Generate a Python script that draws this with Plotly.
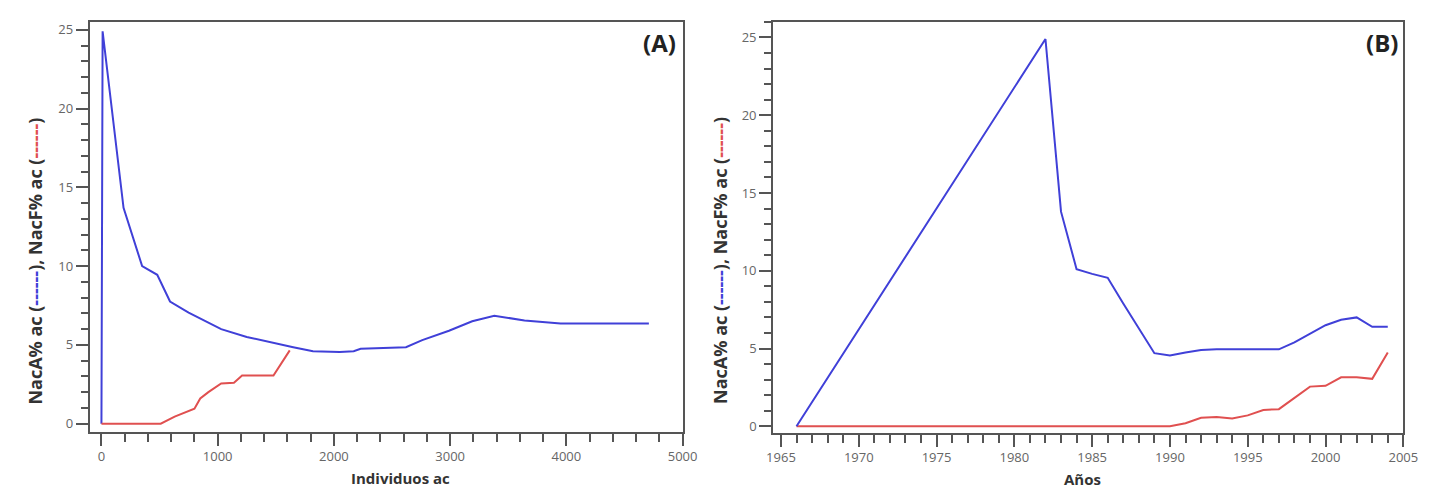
import plotly.graph_objects as go

# Panel A: accumulated individuals
indiv_nacA = [0, 10, 190, 350, 480, 590, 750, 1030, 1250, 1480, 1650, 1820, 2050, 2170, 2230, 2620, 2760, 2990, 3190, 3380, 3640, 3950, 4710]
nacA_A = [0, 24.9, 13.7, 10.0, 9.45, 7.75, 7.05, 6.0, 5.5, 5.1, 4.85, 4.6, 4.55, 4.6, 4.75, 4.85, 5.3, 5.9, 6.5, 6.85, 6.55, 6.35, 6.35]
indiv_nacF = [0, 510, 630, 750, 800, 850, 920, 1030, 1140, 1210, 1480, 1620]
nacF_A = [0, 0, 0.45, 0.8, 0.95, 1.6, 2.0, 2.55, 2.6, 3.05, 3.05, 4.65]

# Panel B: years
years = [1966, 1982, 1983, 1984, 1985, 1986, 1987, 1988, 1989, 1990, 1991, 1992, 1993, 1994,
         1995, 1996, 1997, 1998, 1999, 2000, 2001, 2002, 2003, 2004]
nacA_B = [0, 24.9, 13.8, 10.1, 9.8, 9.55, 7.9, 6.3, 4.7, 4.55, 4.75, 4.9, 4.95, 4.95,
          4.95, 4.95, 4.95, 5.4, 5.95, 6.5, 6.85, 7.0, 6.4, 6.4]
nacF_B = [0, 0, 0, 0, 0, 0, 0, 0, 0, 0, 0.2, 0.55, 0.6, 0.5,
          0.7, 1.05, 1.1, 1.8, 2.55, 2.6, 3.15, 3.15, 3.05, 4.75]

BLUE = "#4040d8"
RED = "#e05050"
AXC = "#555555"
FONT = "Open Sans"

fig = go.Figure()
fig.add_trace(go.Scatter(x=indiv_nacA, y=nacA_A, mode="lines", line=dict(color=BLUE, width=2),
                         xaxis="x", yaxis="y", showlegend=False))
fig.add_trace(go.Scatter(x=indiv_nacF, y=nacF_A, mode="lines", line=dict(color=RED, width=2),
                         xaxis="x", yaxis="y", showlegend=False))
fig.add_trace(go.Scatter(x=years, y=nacF_B, mode="lines", line=dict(color=RED, width=2),
                         xaxis="x2", yaxis="y2", showlegend=False))
fig.add_trace(go.Scatter(x=years, y=nacA_B, mode="lines", line=dict(color=BLUE, width=2),
                         xaxis="x2", yaxis="y2", showlegend=False))

W, H = 1432, 488
def fx(px): return px / W
def fy(py): return 1 - py / H

common = dict(showline=True, linecolor=AXC, linewidth=2, mirror=True, showgrid=False,
              zeroline=False, ticks="outside", tickwidth=2, tickcolor=AXC,
              tickfont=dict(family=FONT, size=13, color="#666666"))
xminor = dict(ticks="outside", ticklen=8, tickwidth=2, tickcolor=AXC)
yminor = dict(dtick=1, ticks="outside", ticklen=7, tickwidth=2, tickcolor=AXC)

fig.update_layout(
    width=W, height=H, margin=dict(l=0, r=0, t=0, b=0),
    paper_bgcolor="white", plot_bgcolor="white",
    xaxis=dict(domain=[fx(76), fx(678)], range=[-100, 5000], tick0=0, dtick=1000, ticklen=12,
               minor=dict(dtick=200, **xminor), anchor="y", **common),
    yaxis=dict(domain=[fy(425), fy(12)], range=[-0.5, 25.5], tick0=0, dtick=5, ticklen=12,
               minor=yminor, anchor="x", **common),
    xaxis2=dict(domain=[fx(770), fx(1410)], range=[1964.5, 2005], tick0=1965, dtick=5, ticklen=12,
                minor=dict(dtick=1, **xminor), anchor="y2", **common),
    yaxis2=dict(domain=[fy(426), fy(12)], range=[-0.4, 26.0], tick0=0, dtick=5, ticklen=12,
                minor=yminor, anchor="x2", **common),
)

ytitle = (f"NacA% ac (<span style='color:{BLUE}'>------</span>), "
          f"NacF% ac (<span style='color:{RED}'>------</span>)")
tfont = dict(family=FONT, size=18, color="#333333")
xtfont = dict(family=FONT, size=15, color="#333333")
ann = [
    dict(text="<b>(A)</b>", x=fx(673), y=fy(33), xanchor="right", yanchor="middle",
         font=dict(family=FONT, size=24, color="#222222")),
    dict(text="<b>(B)</b>", x=fx(1407), y=fy(33), xanchor="right", yanchor="middle",
         font=dict(family=FONT, size=24, color="#222222")),
    dict(text="<b>Individuos ac</b>", x=fx(392), y=fy(472), xanchor="center", yanchor="middle", font=xtfont),
    dict(text="<b>Años</b>", x=fx(1084), y=fy(473), xanchor="center", yanchor="middle", font=xtfont),
    dict(text="<b>" + ytitle + "</b>", x=fx(20), y=fy(253), xanchor="center", yanchor="middle",
         textangle=-90, font=tfont),
    dict(text="<b>" + ytitle + "</b>", x=fx(716), y=fy(253), xanchor="center", yanchor="middle",
         textangle=-90, font=tfont),
]
for a in ann:
    a.update(xref="paper", yref="paper", showarrow=False)
fig.update_layout(annotations=ann)

fig.write_html("out.html")
